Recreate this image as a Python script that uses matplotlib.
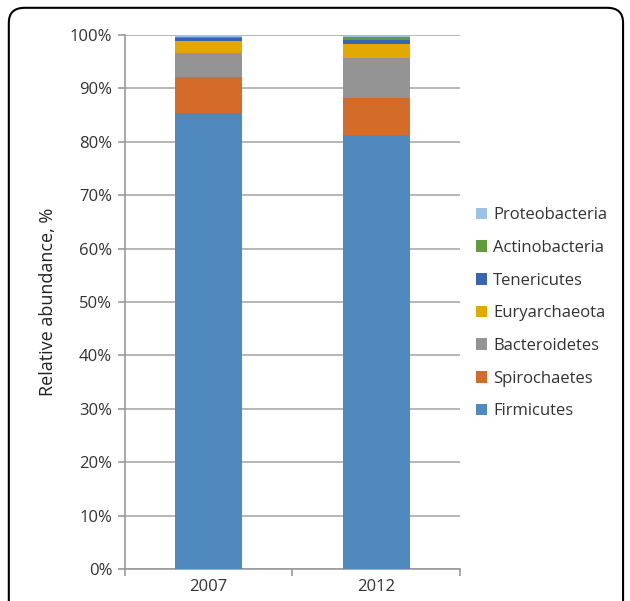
import numpy as np
import matplotlib.pyplot as plt
from matplotlib.patches import FancyBboxPatch

plt.rcParams['font.family'] = ['Open Sans', 'DejaVu Sans']

years = ['2007', '2012']
phyla = ['Firmicutes', 'Spirochaetes', 'Bacteroidetes', 'Euryarchaeota',
         'Tenericutes', 'Actinobacteria', 'Proteobacteria']
firmicutes = [85.3, 81.3]
spirochaetes = [6.9, 6.9]
bacteroidetes = [4.4, 7.4]
euryarchaeota = [2.2, 2.7]
tenericutes = [0.7, 0.8]
actinobacteria = [0.2, 0.5]
proteobacteria = [0.3, 0.4]
values = [firmicutes, spirochaetes, bacteroidetes, euryarchaeota,
          tenericutes, actinobacteria, proteobacteria]
colors = ['#4f89be', '#d46b28', '#949494', '#e2a900',
          '#3b64b0', '#5e9c3c', '#9dc2e5']

fig = plt.figure(figsize=(6.3, 6.01), dpi=100)
ax = fig.add_axes([0.198, 0.0532, 0.532, 0.8886])

# rounded frame around the panel
frame = FancyBboxPatch((0.014, -0.05), 0.975, 1.037, boxstyle='round,pad=0,rounding_size=0.025',
                       transform=fig.transFigure, fill=False, edgecolor='black', linewidth=1.5,
                       clip_on=False)
fig.patches.append(frame)

x = np.arange(len(years))
bottom = np.zeros(len(years))
handles = []
for name, vals, c in zip(phyla, values, colors):
    b = ax.bar(x, vals, width=0.4, bottom=bottom, color=c, edgecolor='none', label=name, zorder=3)
    handles.append(b)
    bottom += np.array(vals)

ax.set_xlim(-0.5, 1.5)
ax.set_ylim(0, 100)
ax.set_yticks(np.arange(0, 101, 10))
ax.set_yticklabels([f'{v}%' for v in range(0, 101, 10)], fontsize=12, color='#333333')
ax.set_xticks(x)
ax.set_xticklabels(years, fontsize=12, color='#333333')
ax.set_xticks([-0.5, 0.5, 1.5], minor=True)
ax.tick_params(axis='x', which='major', length=0, pad=7)
ax.tick_params(axis='x', which='minor', length=5, color='#999999', width=1.2)
ax.tick_params(axis='y', length=5, color='#999999', width=1.2, pad=4)
ax.grid(axis='y', color='#aaaaaa', linewidth=1.2, zorder=0)
for s in ['top', 'right']:
    ax.spines[s].set_visible(False)
for s in ['left', 'bottom']:
    ax.spines[s].set_color('#999999')
    ax.spines[s].set_linewidth(1.2)
ax.set_ylabel('Relative abundance, %', fontsize=13, color='#222222', labelpad=9)

leg = fig.legend(handles[::-1], phyla[::-1], loc='upper left', bbox_to_anchor=(0.731, 0.68),
                 frameon=False, fontsize=12, handlelength=0.7, handleheight=0.7,
                 handletextpad=0.35, labelspacing=1.0, labelcolor='#333333')

fig.savefig('out.png', dpi=100)
